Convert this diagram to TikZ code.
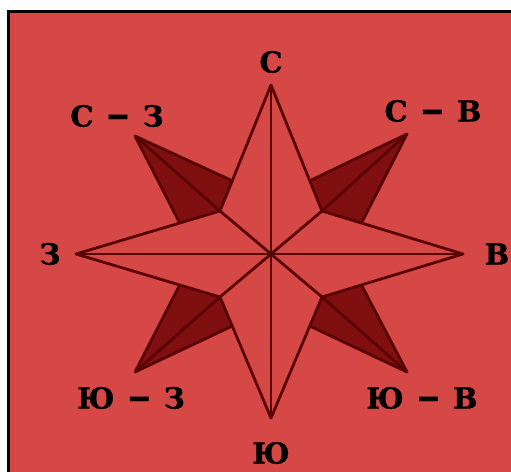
\documentclass[tikz,border=0pt]{standalone}
\usepackage{graphicx}
\usepackage{fontspec}
\setmainfont{DejaVu Serif}
\newfontfamily\lblfont[BoldFeatures={FakeBold=1}]{DejaVu Serif}
\usetikzlibrary{calc}
\definecolor{mapred}{RGB}{213,72,70}
\definecolor{armred}{RGB}{128,15,15}
\definecolor{inkred}{RGB}{90,3,3}
\newcommand{\dsh}{\hspace{0.45em}\scalebox{1.6}[1.25]{–}\hspace{0.45em}}

\begin{document}
\begin{tikzpicture}[x=1pt, y=-1pt,
    line/.style={inkred, line width=2.8pt, line join=round},
    lbl/.style={font=\lblfont\bfseries\fontsize{29}{29}\selectfont, inner sep=0pt}]

    \useasboundingbox (0,0) rectangle (511,471);
    \clip (0,0) rectangle (511,471);
    \draw[black, line width=3pt, fill=mapred] (8.5,11.5) rectangle (530,490);

    % centre, main tips, inner corners, diagonal tips
    \coordinate (c) at (271,254);
    \coordinate (n) at ($(c)+(0,-169)$);
    \coordinate (s) at ($(c)+(0,164)$);
    \coordinate (w) at ($(c)+(-195,0)$);
    \coordinate (e) at ($(c)+(192,0)$);
    \coordinate (inNW) at ($(c)+(-51,-43)$);
    \coordinate (inNE) at ($(c)+(51,-43)$);
    \coordinate (inSW) at ($(c)+(-51,43)$);
    \coordinate (inSE) at ($(c)+(51,43)$);
    \coordinate (tNW) at ($(c)+(-136,-118)$);
    \coordinate (tNE) at ($(c)+(136,-120)$);
    \coordinate (tSW) at ($(c)+(-136,118)$);
    \coordinate (tSE) at ($(c)+(136,118)$);

    % dark diagonal arms
    \foreach \d/\v/\h in {NW/n/w, NE/n/e, SW/s/w, SE/s/e}
    {
        \coordinate (a\d) at ($(\v)!0.76!(in\d)$);
        \coordinate (b\d) at ($(\h)!0.72!(in\d)$);
        \fill[armred] (t\d) -- (a\d) -- (in\d) -- (b\d) -- cycle;
        \draw[line] (a\d) -- (t\d) -- (b\d);
        \draw[line] (t\d) -- (in\d);
    }

    % main star
    \draw[line] (n) -- (inNE) -- (e) -- (inSE) -- (s) -- (inSW) -- (w) -- (inNW) -- cycle;
    \draw[line] (n) -- (s);
    \draw[line] (w) -- (e);
    \draw[line] (inNW) -- (inSE);
    \draw[line] (inNE) -- (inSW);
    \fill[inkred] (c) circle (3.5);

    % labels
    \node[lbl] (lN) at (271,62) {С};
    \node[lbl] (lS) at (271,453) {Ю};
    \node[lbl] (lW) at (50,254) {З};
    \node[lbl] (lE) at (497,254) {В};
    \node[lbl] (lNW) at (117,116) {С\dsh З};
    \node[lbl] (lNE) at (433,111) {С\dsh В};
    \node[lbl] (lSW) at (131,398) {Ю\dsh З};
    \node[lbl] (lSE) at (422,398) {Ю\dsh В};
\end{tikzpicture}
\end{document}
